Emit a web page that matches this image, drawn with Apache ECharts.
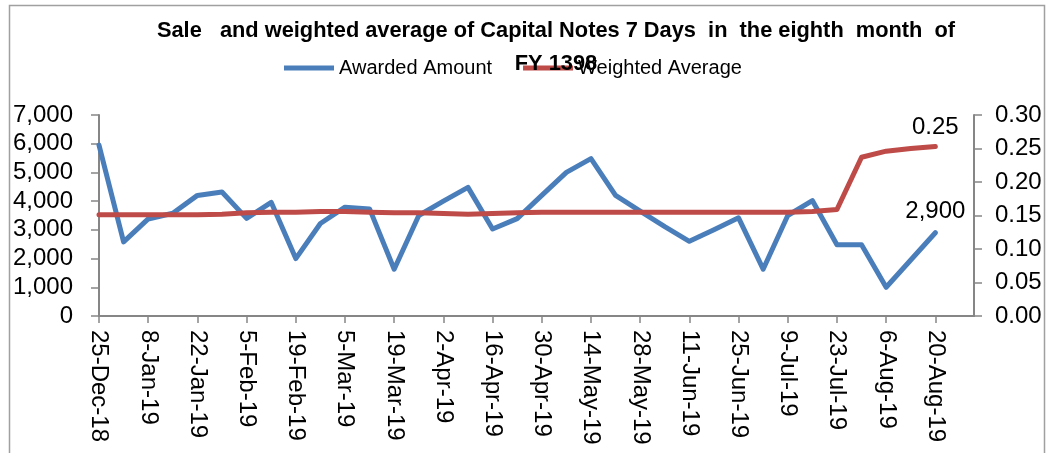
<!DOCTYPE html>
<html>
<head>
<meta charset="utf-8">
<script src="https://cdn.jsdelivr.net/npm/echarts@6/dist/echarts.min.js"></script>
<style>
  html, body { margin: 0; padding: 0; background: #fff; }
  #chart { width: 1049px; height: 453px; }
</style>
</head>
<body>
<div id="chart"></div>
<script>
  // weekly auction dates
  const dates = [
    '2018-12-25', '2019-01-01', '2019-01-08', '2019-01-15', '2019-01-22', '2019-01-29',
    '2019-02-05', '2019-02-12', '2019-02-19', '2019-02-26', '2019-03-05', '2019-03-12',
    '2019-03-19', '2019-03-26', '2019-04-02', '2019-04-09', '2019-04-16', '2019-04-23',
    '2019-04-30', '2019-05-07', '2019-05-14', '2019-05-21', '2019-05-28', '2019-06-04',
    '2019-06-11', '2019-06-18', '2019-06-25', '2019-07-02', '2019-07-09', '2019-07-16',
    '2019-07-23', '2019-07-30', '2019-08-06', '2019-08-13', '2019-08-20'
  ]
  const awarded = [
    5950, 2580, 3380, 3580, 4200, 4320, 3400, 3960, 2000, 3220, 3790, 3730,
    1630, 3500, 4000, 4480, 3030, 3390, 4200, 5000, 5480, 4200, 3650, 3110,
    2600, 3000, 3420, 1630, 3500, 4020, 2480, 2480, 1000, 1950, 2900
  ]
  const weighted = [
    0.151, 0.151, 0.151, 0.151, 0.151, 0.152, 0.154, 0.155, 0.155, 0.156, 0.156, 0.155,
    0.154, 0.154, 0.153, 0.152, 0.153, 0.154, 0.155, 0.155, 0.155, 0.155, 0.155, 0.155,
    0.155, 0.155, 0.155, 0.155, 0.155, 0.156, 0.159, 0.237, 0.246, 0.250, 0.253
  ]
  const axisEnd = '2019-08-31'
  const months = ['Jan', 'Feb', 'Mar', 'Apr', 'May', 'Jun', 'Jul', 'Aug', 'Sep', 'Oct', 'Nov', 'Dec']

  const DAY = 86400000
  const base = Date.parse(dates[0])
  const dayOf = s => Math.round((Date.parse(s) - base) / DAY)
  const dateLabel = v => {
    const d = new Date(base + v * DAY)
    return d.getUTCDate() + '-' + months[d.getUTCMonth()] + '-' + String(d.getUTCFullYear()).slice(2)
  }
  const tickDays = dates.filter((d, i) => i % 2 === 0).map(dayOf)
  const last = dates.length - 1

  const font = "'Liberation Sans', Arial, sans-serif"
  const axisColor = '#868686'

  // only the last point carries a label
  const toData = (vals) => vals.map((v, i) => ({
    value: [dayOf(dates[i]), v],
    label: { show: i === last }
  }))

  const chart = echarts.init(document.getElementById('chart'))
  chart.setOption({
    animation: false,
    textStyle: { fontFamily: font },
    title: {
      text: 'Sale   and weighted average of Capital Notes 7 Days  in  the eighth  month  of\nFY 1398',
      left: 551,
      top: 9,
      textAlign: 'center',
      textStyle: {
        fontFamily: font,
        fontWeight: 'bold',
        fontSize: 21.8,
        lineHeight: 33,
        color: '#000'
      }
    },
    legend: {
      left: 279,
      top: 53,
      icon: 'rect',
      itemWidth: 50,
      itemHeight: 5,
      itemGap: 31,
      textStyle: { fontSize: 20, color: '#000', fontFamily: font },
      data: ['Awarded Amount', 'Weighted Average']
    },
    graphic: [{
      type: 'rect',
      shape: { x: 9.5, y: 5.5, width: 1035, height: 470 },
      style: { fill: null, stroke: '#a0a0a0', lineWidth: 1.5 },
      silent: true
    }],
    grid: { left: 99, right: 75, top: 115, height: 201 },
    xAxis: {
      type: 'value',
      min: 0,
      max: dayOf(axisEnd),
      interval: 14,
      splitLine: { show: false },
      axisLine: { lineStyle: { color: axisColor, width: 2 } },
      axisTick: { show: true, length: 7, customValues: tickDays, lineStyle: { color: axisColor, width: 1.5 } },
      axisLabel: {
        customValues: tickDays,
        rotate: -90,
        margin: 14,
        fontSize: 24,
        color: '#000',
        formatter: v => (v % 14 === 0 ? dateLabel(v) : '')
      }
    },
    yAxis: [
      {
        type: 'value',
        min: 0,
        max: 7000,
        interval: 1000,
        splitLine: { show: false },
        axisLine: { show: true, lineStyle: { color: axisColor, width: 2 } },
        axisTick: { show: true, length: 8, lineStyle: { color: axisColor, width: 1.5 } },
        axisLabel: {
          margin: 26,
          fontSize: 24,
          color: '#000',
          formatter: v => v.toLocaleString('en-US')
        }
      },
      {
        type: 'value',
        min: 0,
        max: 0.3,
        interval: 0.05,
        position: 'right',
        splitLine: { show: false },
        axisLine: { show: true, lineStyle: { color: axisColor, width: 2 } },
        axisTick: { show: true, length: 8, lineStyle: { color: axisColor, width: 1.5 } },
        axisLabel: {
          margin: 21,
          fontSize: 24,
          color: '#000',
          formatter: v => v.toFixed(2)
        }
      }
    ],
    series: [
      {
        name: 'Awarded Amount',
        type: 'line',
        yAxisIndex: 0,
        showSymbol: true,
        symbol: 'circle',
        symbolSize: 0,
        itemStyle: { color: '#4a7ebb' },
        lineStyle: { width: 5, color: '#4a7ebb', cap: 'round', join: 'round' },
        label: {
          position: 'top',
          distance: 9,
          fontSize: 24,
          color: '#000',
          formatter: p => p.value[1].toLocaleString('en-US')
        },
        data: toData(awarded),
        z: 2
      },
      {
        name: 'Weighted Average',
        type: 'line',
        yAxisIndex: 1,
        showSymbol: true,
        symbol: 'circle',
        symbolSize: 0,
        itemStyle: { color: '#be4b48' },
        lineStyle: { width: 5, color: '#be4b48', cap: 'round', join: 'round' },
        label: {
          position: 'top',
          distance: 7,
          fontSize: 24,
          color: '#000',
          formatter: p => p.value[1].toFixed(2)
        },
        data: toData(weighted),
        z: 3
      }
    ]
  })
</script>
</body>
</html>
